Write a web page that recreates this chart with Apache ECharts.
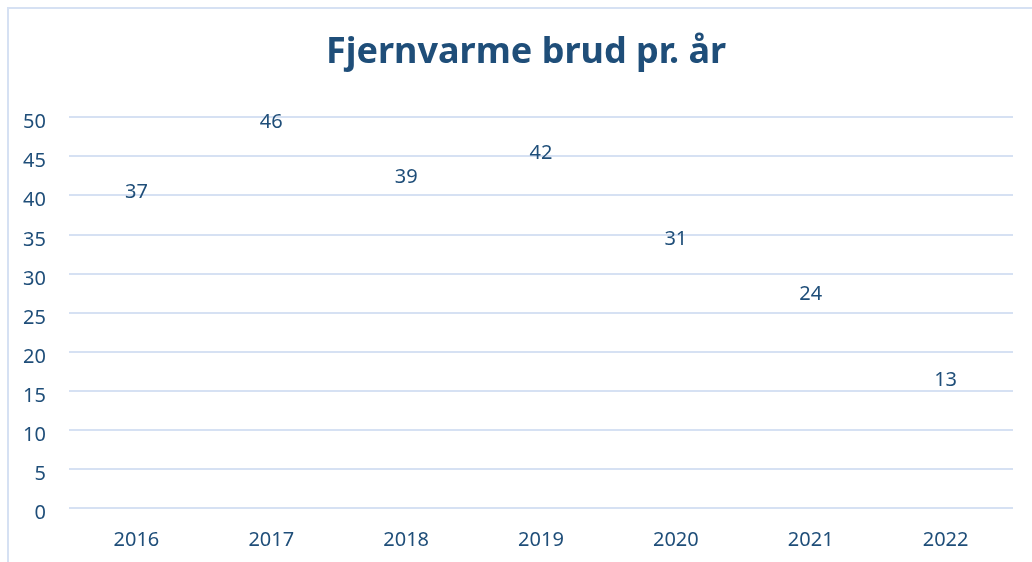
<!DOCTYPE html>
<html>
<head>
<meta charset="utf-8">
<script src="https://cdn.jsdelivr.net/npm/echarts@6/dist/echarts.min.js"></script>
<style>
html,body{margin:0;padding:0;background:#fff;}
#c{width:1032px;height:562px;}
</style>
</head>
<body>
<div id="c"></div>
<script>
const categories = ['2016','2017','2018','2019','2020','2021','2022'];
const brud = [37, 46, 39, 42, 31, 24, 13];
const yTicks = [0, 5, 10, 15, 20, 25, 30, 35, 40, 45, 50];

const textColor = '#1F4E79';
const font = 'Noto Sans';
const chart = echarts.init(document.getElementById('c'), null, {renderer: 'canvas'});
chart.setOption({
  animation: false,
  backgroundColor: '#fff',
  title: {
    text: 'Fjernvarme brud pr. år',
    left: 321,
    top: 30,
    textStyle: {color: textColor, fontFamily: font, fontWeight: 'bold', fontSize: 36}
  },
  graphic: [{
    type: 'rect',
    shape: {x: 8, y: 8, width: 1100, height: 700},
    style: {fill: 'none', stroke: '#D6E1F3', lineWidth: 2},
    silent: true
  }],
  grid: {left: 69, right: 19, top: 117, bottom: 54},
  xAxis: {
    type: 'category',
    data: categories,
    axisLine: {show: false},
    axisTick: {show: false},
    axisLabel: {color: textColor, fontFamily: font, fontSize: 20, margin: 22}
  },
  yAxis: {
    type: 'value',
    min: yTicks[0],
    max: yTicks[yTicks.length - 1],
    interval: 5,
    axisLine: {show: false},
    axisTick: {show: false},
    axisLabel: {color: textColor, fontFamily: font, fontSize: 20, margin: 23, verticalAlign: 'top', lineHeight: 11},
    splitLine: {lineStyle: {color: '#D6E1F3', width: 2}}
  },
  series: [{
    type: 'bar',
    data: brud,
    barWidth: '60%',
    itemStyle: {color: 'rgba(0,0,0,0)'},
    label: {
      show: true,
      position: 'top',
      distance: 16,
      color: textColor,
      fontFamily: font,
      fontSize: 20
    }
  }]
});
</script>
</body>
</html>
